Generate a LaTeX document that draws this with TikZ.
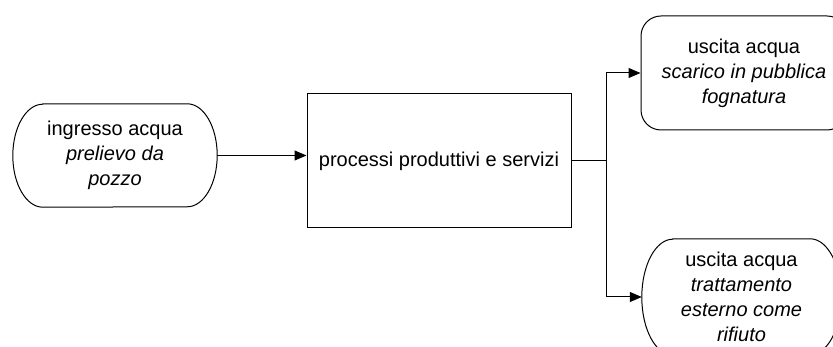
\documentclass[tikz,border=0pt]{standalone}
\usepackage{fontspec}
\setmainfont{Liberation Sans}
\usetikzlibrary{arrows.meta,calc}
\tikzset{
  lbl/.style={align=center, font=\fontsize{20}{25}\selectfont, inner sep=0pt},
  outline/.style={draw=black, line width=1pt},
  conn/.style={draw=black, line width=1pt},
  arr/.style={conn, -{Triangle[length=12pt,width=10pt]}}
}
\begin{document}
\begin{tikzpicture}[x=1pt,y=1pt]
\useasboundingbox (0,0) rectangle (833,347);
% nodes (anchors)
\node[lbl, minimum width=204pt, minimum height=103pt] (in) at (115,191.5)
  {ingresso acqua\\\textit{prelievo da}\\\textit{pozzo}};
\node[lbl, outline, minimum width=264pt, minimum height=134pt] (proc) at (439,186)
  {processi produttivi e servizi};
\node[lbl, outline, rounded corners=20pt, minimum width=206pt, minimum height=114pt] (out1) at (744,274)
  {uscita acqua\\\textit{scarico in pubblica}\\\textit{fognatura}};
\node[lbl, minimum width=199pt, minimum height=116pt] (out2) at (741.5,50)
  {uscita acqua\\\textit{trattamento}\\\textit{esterno come}\\\textit{rifiuto}};
% curved-side outlines
\draw[outline] ($(in.north west)+(30,0)$) -- ($(in.north east)+(-30,0)$)
  arc[start angle=90,end angle=-90,x radius=30,y radius=51.5]
  -- ($(in.south west)+(30,0)$)
  arc[start angle=270,end angle=90,x radius=30,y radius=51.5] -- cycle;
\draw[outline] ($(out2.north west)+(31,0)$) -- ($(out2.north east)+(-31,0)$)
  arc[start angle=90,end angle=-90,x radius=31,y radius=58]
  -- ($(out2.south west)+(31,0)$)
  arc[start angle=270,end angle=90,x radius=31,y radius=58] -- cycle;
% connectors
\draw[arr] (in.east) -- (in.east -| proc.west);
\draw[conn] (proc.east) -- ++(35,0) coordinate (j);
\draw[arr] (j) |- (out1.west);
\draw[arr] (j) |- (out2.west);
\end{tikzpicture}
\end{document}
